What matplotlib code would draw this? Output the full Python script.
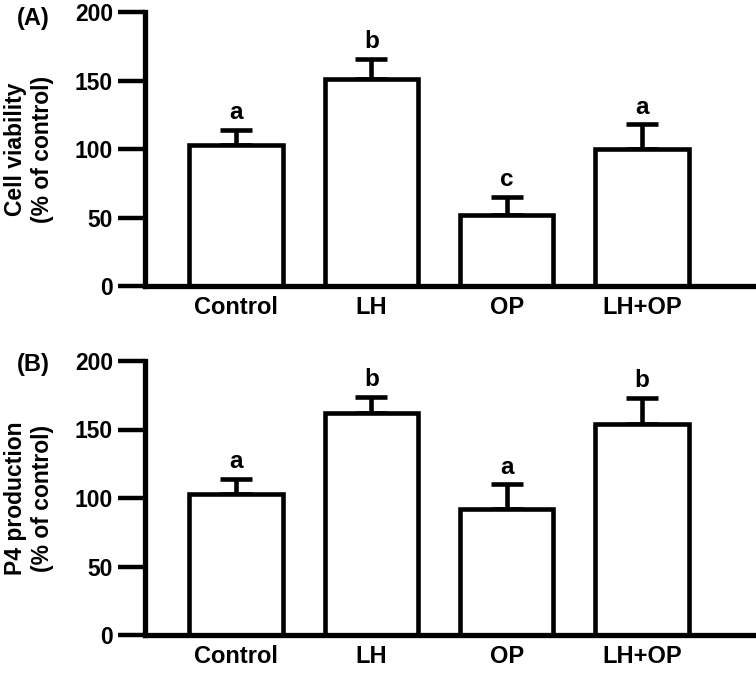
import matplotlib
matplotlib.use("Agg")
import matplotlib.pyplot as plt

plt.rcParams["font.family"] = ["Liberation Sans", "DejaVu Sans"]
plt.rcParams["font.weight"] = "bold"

groups = ["Control", "LH", "OP", "LH+OP"]

# panel A: cell viability (% of control)
via_mean = [103, 151, 52, 100]
via_err = [11, 15, 13, 18]
via_letters = ["a", "b", "c", "a"]

# panel B: P4 production (% of control)
p4_mean = [103, 162, 92, 154]
p4_err = [11, 12, 18, 19]
p4_letters = ["a", "b", "a", "b"]

LW = 3.3


def panel(ax, means, errs, letters, ylabel, tag, fig, tag_y):
    xs = list(range(len(groups)))
    ax.bar(xs, means, width=0.69, color="white", edgecolor="black",
           linewidth=LW, zorder=2)
    ax.errorbar(xs, means, yerr=[[0] * len(errs), errs], fmt="none",
                ecolor="black", elinewidth=LW, capsize=11.5, capthick=LW, zorder=1)
    for x, m, e, t in zip(xs, means, errs, letters):
        ax.annotate(t, (x, m + e), xytext=(0, 4), textcoords="offset points",
                    ha="center", va="bottom", fontsize=17.5, fontweight="bold")
    ax.set_xlim(-0.673, 3.82)
    ax.set_ylim(0, 200)
    ax.set_yticks([0, 50, 100, 150, 200])
    ax.set_xticks(xs)
    ax.set_xticklabels(groups)
    for s in ("top", "right"):
        ax.spines[s].set_visible(False)
    for s in ("left", "bottom"):
        ax.spines[s].set_linewidth(3.8)
    ax.tick_params(axis="y", length=19.5, width=3.2, pad=3.5, labelsize=16.5)
    ax.tick_params(axis="x", length=0, pad=7, labelsize=17)
    for lab in ax.get_xticklabels() + ax.get_yticklabels():
        lab.set_fontweight("bold")
    bb = ax.get_position()
    fig.text(29 / 756, bb.y0 + bb.height / 2, ylabel, rotation=90,
             ha="center", va="center", multialignment="center",
             fontsize=16.5, fontweight="bold")
    fig.text(33 / 756, tag_y, tag, ha="center", va="center",
             fontsize=17, fontweight="bold")


fig = plt.figure(figsize=(7.56, 6.73), dpi=100)
axA = fig.add_axes([145 / 756, 1 - 286 / 673, 608 / 756, 274 / 673])
axB = fig.add_axes([145 / 756, 1 - 635 / 673, 608 / 756, 274 / 673])

panel(axA, via_mean, via_err, via_letters, "Cell viability\n(% of control)", "(A)", fig, 1 - 18 / 673)
panel(axB, p4_mean, p4_err, p4_letters, "P4 production\n(% of control)", "(B)", fig, 1 - 365 / 673)

fig.savefig("out.png", dpi=100)
